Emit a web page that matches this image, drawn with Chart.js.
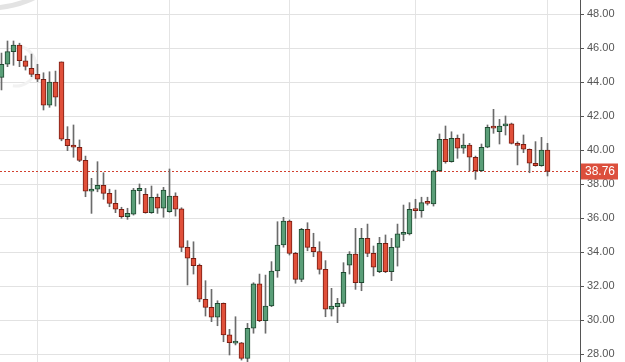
<!DOCTYPE html>
<html>
<head>
<meta charset="utf-8">
<script src="https://cdn.jsdelivr.net/npm/chart.js@4.4.1/dist/chart.umd.min.js"></script>
<style>
  html, body { margin: 0; padding: 0; background: #ffffff; }
  #wrap { width: 625px; height: 362px; position: relative; }
</style>
</head>
<body>
<div id="wrap"><canvas id="c" width="625" height="362"></canvas></div>
<script>
// ---- data ----
const opens  = [44.29,45.06,45.80,46.19,45.27,44.82,44.47,44.18,42.65,44.02,
                45.20,40.65,40.31,40.18,39.41,37.59,37.71,37.94,37.47,36.88,
                36.53,36.09,36.25,37.62,37.41,36.33,37.24,36.59,36.39,37.31,
                36.55,34.29,33.65,33.24,31.24,30.76,30.18,31.00,29.14,28.66,
                28.68,27.76,29.53,32.14,29.98,30.84,32.90,34.43,35.84,33.94,
                32.41,35.35,34.29,34.04,33.00,30.65,30.80,31.00,33.25,33.90,
                32.21,34.82,33.94,32.86,34.53,32.86,34.29,35.05,35.08,36.55,
                36.45,36.95,36.84,38.80,40.65,39.33,40.71,40.12,40.31,39.59,
                38.80,40.18,41.35,41.09,41.43,41.55,40.41,40.35,40.06,39.24,
                39.09,40.02];
const highs  = [45.72,46.43,46.43,46.30,45.55,45.66,45.06,44.56,44.62,44.66,
                45.20,41.39,41.49,40.61,39.66,38.35,39.33,38.68,37.71,37.66,
                36.65,36.59,37.76,38.02,37.76,37.90,37.43,37.82,38.90,37.50,
                36.62,34.68,34.62,33.31,32.33,31.82,31.15,31.02,29.47,30.21,
                28.70,29.82,32.21,32.72,32.66,33.45,35.80,36.06,35.90,34.00,
                35.41,35.74,35.12,34.62,33.51,31.88,31.29,33.39,34.04,35.41,
                35.41,35.66,34.37,34.88,35.02,34.82,35.66,36.78,36.92,37.12,
                37.24,37.24,38.84,40.96,41.43,41.09,40.90,40.96,40.41,39.66,
                40.37,41.49,42.41,41.82,42.02,41.60,40.50,40.90,40.08,40.51,
                40.76,40.41];
const lows   = [43.55,44.92,45.00,44.92,44.72,44.33,44.04,42.37,42.53,42.60,
                40.56,39.98,39.59,39.33,37.27,36.29,37.56,37.12,36.68,36.33,
                36.00,35.94,36.19,36.84,36.30,36.29,36.29,36.06,36.35,36.13,
                34.04,32.08,32.72,31.09,30.25,29.92,29.68,28.74,27.96,28.55,
                27.66,27.56,29.24,29.92,29.24,30.80,32.53,34.30,33.84,32.18,
                32.27,34.09,33.74,32.72,30.21,30.25,29.86,30.80,32.72,31.82,
                31.74,33.74,32.61,32.80,32.80,32.33,33.19,34.68,35.02,36.00,
                36.06,36.78,36.72,38.75,39.24,39.30,39.53,39.82,38.80,38.29,
                38.75,40.15,41.00,40.37,40.90,40.37,39.14,39.86,38.68,39.06,
                39.06,38.49];
const closes = [45.06,45.80,46.19,45.27,44.94,44.47,44.18,42.65,44.02,43.12,
                40.65,40.27,40.18,39.41,37.59,37.72,37.94,37.47,36.88,36.53,
                36.09,36.29,37.66,37.76,36.33,37.24,36.59,37.66,37.31,36.53,
                34.29,33.65,33.21,31.24,30.76,30.18,31.00,29.14,28.68,28.70,
                27.76,29.53,32.14,29.98,30.84,32.90,34.43,35.84,33.94,32.41,
                35.35,34.29,34.04,33.00,30.65,30.84,31.00,32.82,33.90,32.21,
                34.82,33.94,33.12,34.53,32.86,34.29,35.08,35.10,36.53,36.45,
                36.92,36.88,38.78,40.65,39.33,40.71,40.12,40.31,39.59,38.80,
                40.18,41.35,41.30,41.43,41.55,40.41,40.29,40.06,39.24,39.09,
                40.02,38.76];
const yTickValues = [28, 30, 32, 34, 36, 38, 40, 42, 44, 46, 48];
const xGridIndices = [6, 28, 48, 69, 91];
const lastPrice = 38.76;

// ---- styles ----
const RED_FILL = '#e0503a', RED_EDGE = '#7a1d12';
const GRN_FILL = '#5a9e78', GRN_EDGE = '#1f4a31';

const idx = opens.map((_, i) => i);
const bodyData = idx.map(i => ({ x: i, y: [opens[i], closes[i]] }));
const wickData = idx.map(i => ({ x: i, y: [lows[i], highs[i]] }));
const up = idx.map(i => closes[i] >= opens[i]);

const watermark = {
  id: 'watermark',
  beforeDatasetsDraw(chart) {
    const ctx = chart.ctx;
    ctx.save();
    ctx.strokeStyle = '#e3e3e3';
    ctx.lineWidth = 5;
    ctx.beginPath();
    ctx.arc(-10, -92, 100, 0, Math.PI);
    ctx.stroke();
    ctx.strokeStyle = '#f2f2f2';
    ctx.lineWidth = 3;
    ctx.beginPath();
    ctx.arc(16, 66, 20, -Math.PI * 0.45, Math.PI * 0.55);
    ctx.stroke();
    // price line
    const y = Math.round(chart.scales.y.getPixelForValue(lastPrice)) + 0.5;
    ctx.strokeStyle = '#d2412f';
    ctx.lineWidth = 1;
    ctx.setLineDash([2, 2]);
    ctx.beginPath();
    ctx.moveTo(chart.chartArea.left, y);
    ctx.lineTo(chart.chartArea.right, y);
    ctx.stroke();
    ctx.restore();
  },
  afterDraw(chart) {
    const ctx = chart.ctx;
    const y = chart.scales.y.getPixelForValue(lastPrice);
    ctx.save();
    ctx.fillStyle = '#dc4f3c';
    ctx.fillRect(581, Math.round(y) - 7.5, 37, 16);
    ctx.fillStyle = '#ffffff';
    ctx.font = '12px "Liberation Sans", Arial, sans-serif';
    ctx.textAlign = 'center';
    ctx.textBaseline = 'middle';
    ctx.fillText(lastPrice.toFixed(2), 600, Math.round(y) + 0.5);
    ctx.restore();
  }
};

new Chart(document.getElementById('c'), {
  type: 'bar',
  data: {
    datasets: [
      {
        data: bodyData,
        grouped: false,
        order: 1,
        barThickness: 5,
        minBarLength: 2,
        borderWidth: 1,
        borderSkipped: false,
        backgroundColor: up.map(u => u ? GRN_FILL : RED_FILL),
        borderColor: up.map(u => u ? GRN_EDGE : RED_EDGE)
      },
      {
        data: wickData,
        grouped: false,
        order: 2,
        barThickness: 1,
        borderWidth: 0,
        backgroundColor: '#6b6b6b'
      }
    ]
  },
  options: {
    responsive: false,
    animation: false,
    layout: { padding: 0 },
    plugins: { legend: { display: false }, tooltip: { enabled: false } },
    scales: {
      x: {
        type: 'linear',
        min: -0.25,
        max: -0.25 + 580 / 6,
        offset: false,
        afterBuildTicks(scale) { scale.ticks = xGridIndices.map(v => ({ value: v })); },
        afterFit(scale) { scale.height = 0; scale.paddingLeft = 0; scale.paddingRight = 0; },
        ticks: { display: false },
        grid: { color: '#e4e4e4', drawTicks: false, offset: false },
        border: { display: false }
      },
      y: {
        position: 'right',
        min: 48 - 347.7 / 17,
        max: 48 + 14.3 / 17,
        afterBuildTicks(scale) { scale.ticks = yTickValues.map(v => ({ value: v })); },
        afterFit(scale) { scale.width = 45; scale.paddingTop = 0; scale.paddingBottom = 0; },
        ticks: {
          autoSkip: false,
          padding: 3,
          color: '#555555',
          font: { size: 11, family: '"Liberation Sans", Arial, sans-serif' },
          callback: v => Number(v).toFixed(2)
        },
        grid: { color: '#e2e2e2', tickColor: '#555555', tickLength: 4, offset: false },
        border: { display: true, color: '#555555', width: 1 }
      }
    }
  },
  plugins: [watermark]
});
</script>
</body>
</html>
